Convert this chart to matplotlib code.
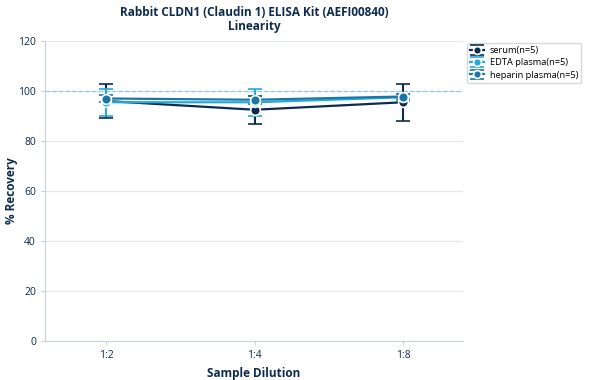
import matplotlib
matplotlib.use("Agg")
import matplotlib.pyplot as plt
import numpy as np

plt.rcParams['font.family'] = ['Open Sans', 'DejaVu Sans']

categories = ["1:2", "1:4", "1:8"]
series_names = ["serum(n=5)", "EDTA plasma(n=5)", "heparin plasma(n=5)"]
serum = [96.0, 92.5, 95.5]
serum_err = [6.8, 5.5, 7.5]
edta = [95.5, 95.5, 97.5]
edta_err = [5.5, 5.5, 1.5]
heparin = [97.0, 96.5, 97.8]
heparin_err = [1.5, 1.5, 1.0]
colors = ["#0d2b4e", "#25a9dd", "#1b76a8"]
text_color = '#0d2b4e'

fig = plt.figure(figsize=(5.9, 3.8), dpi=100)
ax = fig.add_axes([45/590, 1-341/380, (463-45)/590, 300/380])
x = np.arange(len(categories))

for vals, errs, c, name in zip([serum, edta, heparin], [serum_err, edta_err, heparin_err], colors, series_names):
    ax.errorbar(x, vals, yerr=errs, color=c, marker='o', markersize=7, markeredgecolor='white',
                markeredgewidth=1.2, linewidth=1.6, capsize=5, capthick=1.5, elinewidth=1.5,
                label=name, zorder=3)

ax.axhline(100, color='#8fcbe8', linestyle='--', linewidth=0.9, zorder=1)
ax.set_ylim(0, 120)
ax.set_yticks(range(0, 121, 20))
ax.set_xlim(-0.41, 2.4)
ax.set_xticks(x)
ax.set_xticklabels(categories)
ax.grid(axis='y', color='#e3e8ee', linewidth=0.9, zorder=0)
ax.set_axisbelow(True)
for s in ['top', 'right']:
    ax.spines[s].set_visible(False)
for s in ['left', 'bottom']:
    ax.spines[s].set_color('#c8d0d8')
ax.tick_params(colors=text_color, labelsize=7.5, length=3)
ax.tick_params(axis='both', color='#c8d0d8')
ax.set_xlabel("Sample Dilution", fontsize=8.5, fontweight='bold', color=text_color, labelpad=4)
ax.set_ylabel("% Recovery", fontsize=8.5, fontweight='bold', color=text_color)
ax.yaxis.set_label_coords(-27/418, 0.5)
ax.set_title("Rabbit CLDN1 (Claudin 1) ELISA Kit (AEFI00840)\nLinearity", fontsize=8.5,
             fontweight='bold', color=text_color, pad=8, linespacing=1.1)
ax.legend(loc='upper left', bbox_to_anchor=(1.005, 1.0), fontsize=6.7, frameon=True,
          edgecolor='#c8d0d8', handlelength=1.5, borderaxespad=0.2, labelspacing=0.35,
          borderpad=0.35, handletextpad=0.6, markerscale=0.8)
fig.savefig("out.png", dpi=100)
